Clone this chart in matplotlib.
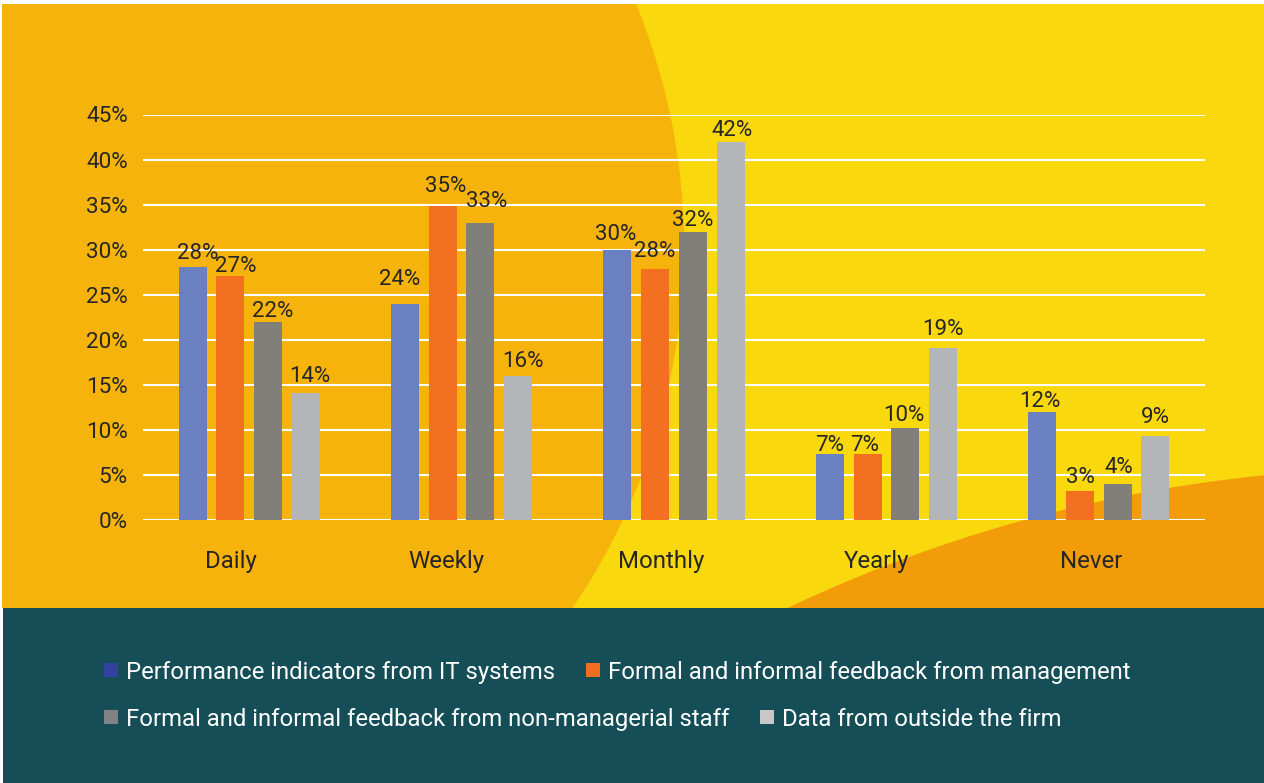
import matplotlib
matplotlib.use("Agg")
import matplotlib.pyplot as plt
from matplotlib.patches import Rectangle, Circle
import numpy as np

categories = ["Daily", "Weekly", "Monthly", "Yearly", "Never"]
series_names = [
    "Performance indicators from IT systems",
    "Formal and informal feedback from management",
    "Formal and informal feedback from non-managerial staff",
    "Data from outside the firm",
]
it_systems = [28.1, 24.0, 30.0, 7.3, 12.0]
mgmt_feedback = [27.1, 34.9, 27.9, 7.3, 3.2]
staff_feedback = [22.0, 33.0, 32.0, 10.2, 4.0]
outside_data = [14.1, 16.0, 42.0, 19.1, 9.3]
labels = [
    ["28%", "24%", "30%", "7%", "12%"],
    ["27%", "35%", "28%", "7%", "3%"],
    ["22%", "33%", "32%", "10%", "4%"],
    ["14%", "16%", "42%", "19%", "9%"],
]
yticks = [0, 5, 10, 15, 20, 25, 30, 35, 40, 45]
ytick_labels = ["0%", "5%", "10%", "15%", "20%", "25%", "30%", "35%", "40%", "45%"]

# label placement nudges (pixels): [series][category]
label_gap_px = [
    [7.7, 19, 10, 3.7, 5],
    [4, 14, 12, 3.7, 8.3],
    [5, 15.3, 5.3, 7, 10.7],
    [10.7, 9, 6, 13, 12.7],
]
label_dx_px = [
    [5.5, -5, -2, 0, -2],
    [5, 3, 0, -3, 0],
    [5, 6, 0, -1, 1],
    [4.5, 4.5, 2, 0, 0],
]

bar_colors = ["#6B80C0", "#F37021", "#807F7A", "#B3B5B8"]
legend_colors = ["#3341A0", "#F36D21", "#808285", "#C8C8C8"]

plt.rcParams["font.family"] = ["Roboto", "DejaVu Sans"]

W, H = 1264, 783
fig = plt.figure(figsize=(W / 100, H / 100), dpi=100)
fig.patch.set_facecolor("white")

# background axes in pixel coordinates
bg = fig.add_axes([0, 0, 1, 1], zorder=0)
bg.set_xlim(0, W)
bg.set_ylim(H, 0)
bg.axis("off")

panel = Rectangle((2, 4), W - 2, 604, facecolor="#F9D80E", edgecolor="none")
bg.add_patch(panel)
left_circle = Circle((44, 247), 640, facecolor="#F6B30B", edgecolor="none")
bg.add_patch(left_circle)
left_circle.set_clip_path(panel)
br_circle = Circle((1409, 1918), 1450, facecolor="#F39C09", edgecolor="none")
bg.add_patch(br_circle)
br_circle.set_clip_path(panel)
bg.add_patch(Rectangle((3, 608), W - 3, H - 608, facecolor="#154E56", edgecolor="none"))

# main chart axes
y0_px, y45_px = 520, 114.5
ax = fig.add_axes([143 / W, (H - y0_px) / H, 1062 / W, (y0_px - y45_px) / H], zorder=1)
ax.patch.set_alpha(0)
for s in ax.spines.values():
    s.set_visible(False)
ax.set_xlim(-0.5, 4.5)
ax.set_ylim(0, 45)
ax.set_yticks(yticks)
ax.set_yticklabels(ytick_labels)
ax.tick_params(axis="y", length=0, pad=11, labelsize=16.2, labelcolor="#262626")
cat_pos = 1.940 + 1.0127 * (np.arange(len(categories)) - 2)
ax.set_xticks(cat_pos)
ax.set_xticklabels(categories)
ax.tick_params(axis="x", length=0, pad=21.5, labelsize=17.3, labelcolor="#262626")
ax.yaxis.grid(True, color="white", linewidth=1.5)
ax.set_axisbelow(True)

all_series = [it_systems, mgmt_feedback, staff_feedback, outside_data]
x = np.arange(len(categories))
width = 0.132
pitch = 0.1775
for j, vals in enumerate(all_series):
    pos = x + (j - 1.5) * pitch
    ax.bar(pos, vals, width=width, color=bar_colors[j], zorder=3)
    for k, (p, v, lab) in enumerate(zip(pos, vals, labels[j])):
        ax.annotate(lab, (p, v),
                    xytext=(label_dx_px[j][k] * 0.72, label_gap_px[j][k] * 0.72),
                    textcoords="offset points",
                    ha="center", va="baseline", fontsize=16, color="#262626", zorder=4)

# legend (manual, two rows)
fig.canvas.draw()
renderer = fig.canvas.get_renderer()
rows = [[0, 1], [2, 3]]
row_y = [670, 717]
for r, idxs in enumerate(rows):
    xpos = 104
    for i in idxs:
        bg.add_patch(Rectangle((xpos, row_y[r] - 7), 14, 14, facecolor=legend_colors[i], edgecolor="none"))
        t = bg.text(xpos + 22, row_y[r], series_names[i], color="white", fontsize=17.2,
                    va="center_baseline", ha="left")
        bb = t.get_window_extent(renderer)
        xpos = xpos + 22 + bb.width + 31

fig.savefig("out.png", dpi=100, facecolor=fig.get_facecolor())
